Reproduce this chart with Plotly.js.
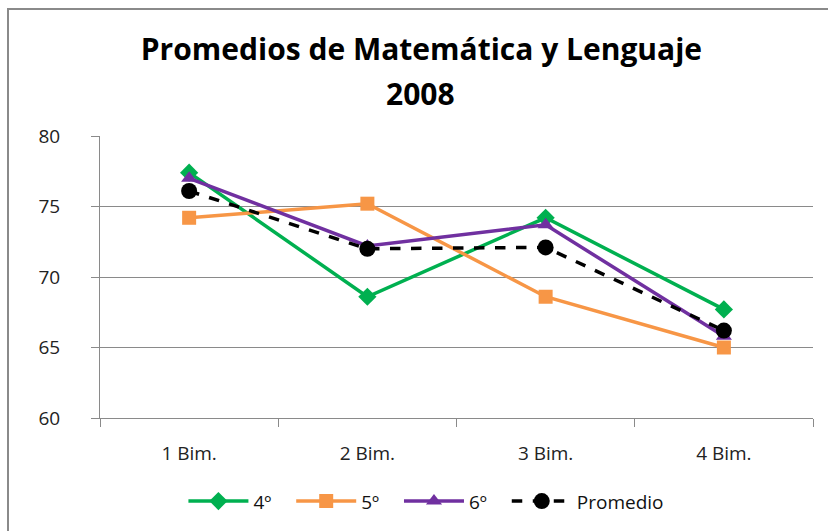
<!DOCTYPE html>
<html>
<head>
<meta charset="utf-8">
<script src="https://cdn.plot.ly/plotly-3.0.1.min.js"></script>
<style>
html,body{margin:0;padding:0;overflow:hidden;background:#fff;}
#frame{position:absolute;left:7px;top:8px;width:900px;height:600px;border:2px solid #8a8a8a;box-sizing:border-box;}
#chart{position:absolute;left:0;top:0;width:828px;height:531px;}
</style>
</head>
<body>
<div id="frame"></div>
<div id="chart"></div>
<script>
const categories = ["1 Bim.", "2 Bim.", "3 Bim.", "4 Bim."];
const cuarto = [77.4, 68.6, 74.2, 67.7];
const quinto = [74.2, 75.2, 68.6, 65.0];
const sexto = [77.0, 72.2, 73.7, 65.8];
const promedio = [76.1, 72.0, 72.1, 66.2];
const yTicks = [60, 65, 70, 75, 80];
const seriesNames = ["4º", "5º", "6º", "Promedio"];
const titleLine1 = "Promedios de Matemática y Lenguaje";
const titleLine2 = "2008";

const FONT = "'Open Sans', 'DejaVu Sans', sans-serif";
const PAD = "\u00a0\u00a0\u00a0";

const traces = [
  {x: categories, y: cuarto, name: seriesNames[0] + PAD, type: "scatter", mode: "lines+markers",
   line: {color: "#00B050", width: 3.5}, marker: {symbol: "diamond", size: 14, color: "#00B050"}},
  {x: categories, y: quinto, name: seriesNames[1] + PAD, type: "scatter", mode: "lines+markers",
   line: {color: "#F79646", width: 3.5}, marker: {symbol: "square", size: 14, color: "#F79646"}},
  {x: categories, y: sexto, name: seriesNames[2] + PAD, type: "scatter", mode: "lines+markers",
   line: {color: "#7030A0", width: 3.5}, marker: {symbol: "triangle-up", size: 14, color: "#7030A0"}},
  {x: categories, y: promedio, name: seriesNames[3], type: "scatter", mode: "lines+markers",
   line: {color: "#000000", width: 3.5, dash: "dash"}, marker: {symbol: "circle", size: 16, color: "#000000"}}
];

const layout = {
  width: 828, height: 531,
  paper_bgcolor: "rgba(0,0,0,0)", plot_bgcolor: "#fff",
  margin: {l: 100, r: 15, t: 136, b: 113},
  font: {family: FONT, color: "#222", size: 19},
  title: {text: titleLine1,
          font: {family: FONT, size: 30, color: "#000", weight: "bold"},
          x: 0.509, xref: "container", xanchor: "center", y: 0.906, yref: "container", yanchor: "middle"},
  annotations: [{text: titleLine2, xref: "paper", yref: "paper", x: 0.450, y: 1.15,
                 xanchor: "center", yanchor: "middle", showarrow: false,
                 font: {family: FONT, size: 30, color: "#000", weight: "bold"}}],
  xaxis: {type: "category", range: [-0.5, 3.5], tickson: "boundaries", ticks: "outside", ticklen: 8, tickcolor: "#8a8a8a",
          showline: true, linecolor: "#8a8a8a", linewidth: 1, showgrid: false, ticklabelstandoff: 18,
          tickfont: {size: 19, family: FONT, color: "#222"}},
  yaxis: {range: [60, 80], tickvals: yTicks, ticks: "outside", ticklen: 8, tickcolor: "#8a8a8a",
          showline: true, linecolor: "#8a8a8a", linewidth: 1, gridcolor: "#8a8a8a", gridwidth: 1,
          zeroline: false, ticklabelstandoff: 27,
          tickfont: {size: 19, family: FONT, color: "#222"}},
  showlegend: true,
  legend: {orientation: "h", x: 0.515, xanchor: "center", xref: "container", y: 0.056, yref: "container", yanchor: "middle",
           font: {size: 19, family: FONT, color: "#111"},
           itemwidth: 60, tracegroupgap: 0, bgcolor: "rgba(0,0,0,0)"}
};

Plotly.newPlot("chart", traces, layout, {displayModeBar: false, staticPlot: true});
</script>
</body>
</html>
